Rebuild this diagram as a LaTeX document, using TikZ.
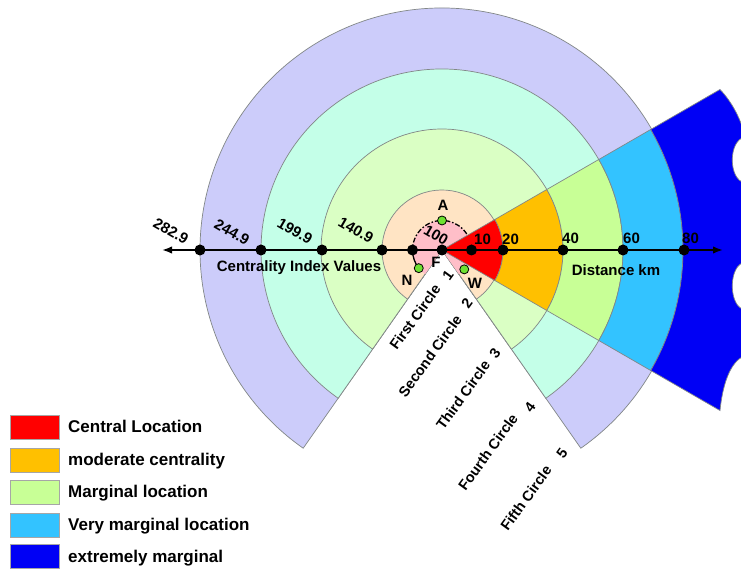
\documentclass[tikz,border=0pt]{standalone}
\usepackage{fontspec}
\setmainfont{Liberation Sans}
\usetikzlibrary{arrows.meta}
\definecolor{cLav}{RGB}{204,204,250}
\definecolor{cMint}{RGB}{196,255,232}
\definecolor{cLg}{RGB}{218,255,196}
\definecolor{cPeach}{RGB}{255,228,196}
\definecolor{cPink}{RGB}{255,190,200}
\definecolor{cRed}{RGB}{255,0,0}
\definecolor{cOr}{RGB}{255,192,0}
\definecolor{cGr}{RGB}{200,255,150}
\definecolor{cLb}{RGB}{51,195,255}
\definecolor{cDb}{RGB}{0,0,245}
\definecolor{cEdge}{RGB}{130,135,135}
\definecolor{cDot}{RGB}{110,225,50}
\begin{document}
\begin{tikzpicture}[x=1pt,y=1pt,
  ring/.style={draw=cEdge,line width=0.7pt},
  dot/.style={circle,fill=black,inner sep=0pt,minimum size=11pt},
  gdot/.style={circle,fill=cDot,draw=black,line width=0.8pt,inner sep=0pt,minimum size=9pt},
  lbl/.style={font=\fontsize{15}{17}\selectfont\bfseries,inner sep=0pt},
  circlbl/.style={font=\fontsize{14.5}{16}\selectfont\bfseries,inner sep=0pt,rotate=54},
  leg/.style={font=\fontsize{17}{19}\selectfont\bfseries,inner sep=0pt,anchor=base west},
  legbox/.style={draw=gray!70,line width=0.8pt,minimum width=49pt,minimum height=24pt,inner sep=0pt},
  axis/.style={line width=1.8pt,{Latex[length=10pt,width=7.5pt]}-{Latex[length=10pt,width=7.5pt]}}]
\clip (0,0) rectangle (741,570);
\fill[white] (0,0) rectangle (741,570);
\coordinate (F) at (442,320);
\begin{scope}[shift={(442,320)}]
  % background circles with the white gap below
  \foreach \r/\c in {242/cLav,181/cMint,121/cLg,60/cPeach}
    \filldraw[ring,fill=\c] (0,0) -- (-55:\r) arc[start angle=-55,end angle=235,radius=\r] -- cycle;
  \fill[cPink] (0,0) -- (-55:29.5) arc[start angle=-55,end angle=235,radius=29.5] -- cycle;
  % distance wedges
  \filldraw[ring,fill=cRed] (0,0) -- (-30:61) arc[start angle=-30,end angle=30,radius=61] -- cycle;
  \filldraw[ring,fill=cOr] (-30:61) -- (-30:121) arc[start angle=-30,end angle=30,radius=121]
     -- (30:61) arc[start angle=30,end angle=-30,radius=61] -- cycle;
  \filldraw[ring,fill=cGr] (-30:121) -- (-30:181) arc[start angle=-30,end angle=30,radius=181]
     -- (30:121) arc[start angle=30,end angle=-30,radius=121] -- cycle;
  \filldraw[ring,fill=cLb] (-30:181) -- (-30:241) arc[start angle=-30,end angle=30,radius=241]
     -- (30:181) arc[start angle=30,end angle=-30,radius=181] -- cycle;
  \filldraw[ring,fill=cDb] (30:241) -- (278,160.5)
     .. controls (291,147) and (300,128) .. (303,113)
     .. controls (286,110) and (286,70) .. (303,67)
     .. controls (318,50) and (318,0) .. (303,-12)
     .. controls (286,-15) and (286,-57) .. (303,-60)
     .. controls (318,-80) and (313,-98) .. (300,-107)
     .. controls (286,-115) and (280,-140) .. (278,-160.5)
     -- (-30:241) arc[start angle=-30,end angle=30,radius=241] -- cycle;
  % inner circle outline
  \draw[line width=1.3pt,dash pattern=on 5pt off 2pt on 1.5pt off 2pt]
     (33:29.5) arc[start angle=33,end angle=180,radius=29.5];
  \draw[line width=1.3pt] (180:29.5) arc[start angle=180,end angle=218,radius=29.5];
  % green points
  \node[gdot] (A) at (90:29.5) {};
  \node[gdot] (N) at (218:29.5) {};
  \node[gdot] (W) at (-41:29.5) {};
\end{scope}
% axis
\coordinate (L) at (162,320);
\coordinate (R) at (723,320);
\draw[axis] (L) -- (R);
\foreach \x/\n in {200/a,261/b,322/c,382/d,412.5/e,442/f,471.5/g,503/h,563/i,623/j,684/k}
  \node[dot] (d\n) at (\x,320) {};
% axis labels
\node[lbl,rotate=-30] at (171,339) {282.9};
\node[lbl,rotate=-30] at (232,338) {244.9};
\node[lbl,rotate=-30] at (295,339) {199.9};
\node[lbl,rotate=-30] at (356,340) {140.9};
\node[lbl,rotate=-30] at (436,335) {100};
\node[lbl,anchor=south west] at (474,325) {10};
\node[lbl,anchor=south west] at (502,325) {20};
\node[lbl,anchor=south west] at (562,326) {40};
\node[lbl,anchor=south west] at (623,326) {60};
\node[lbl,anchor=south west] at (682,326) {80};
\node[lbl] at (299,302) {Centrality Index Values};
\node[lbl] at (616,300) {Distance km};
\node[lbl] at (443,365) {A};
\node[lbl] at (436,308) {F};
\node[lbl] at (407,290) {N};
\node[lbl] at (475,287) {W};
% circle labels
\node[circlbl] at (415,253) {First Circle};
\node[circlbl] at (448,295) {1};
\node[circlbl] at (430,214) {Second Circle};
\node[circlbl] at (467,267) {2};
\node[circlbl] at (463,175) {Third Circle};
\node[circlbl] at (495,217) {3};
\node[circlbl] at (488,118) {Fourth Circle};
\node[circlbl] at (530,163) {4};
\node[circlbl] at (526,72) {Fifth Circle};
\node[circlbl] at (562,117) {5};
% legend
\node[legbox,fill=cRed] (k1) at (34.5,143) {};
\node[legbox,fill=cOr] (k2) at (34.5,110) {};
\node[legbox,fill=cGr] (k3) at (34.5,78) {};
\node[legbox,fill=cLb] (k4) at (34.5,45) {};
\node[legbox,fill=cDb] (k5) at (34.5,13.5) {};
\node[leg] at (68,137) {Central Location};
\node[leg] at (68,104) {moderate centrality};
\node[leg] at (68,72) {Marginal location};
\node[leg] at (68,39) {Very marginal location};
\node[leg] at (68,7.5) {extremely marginal};
\end{tikzpicture}
\end{document}
